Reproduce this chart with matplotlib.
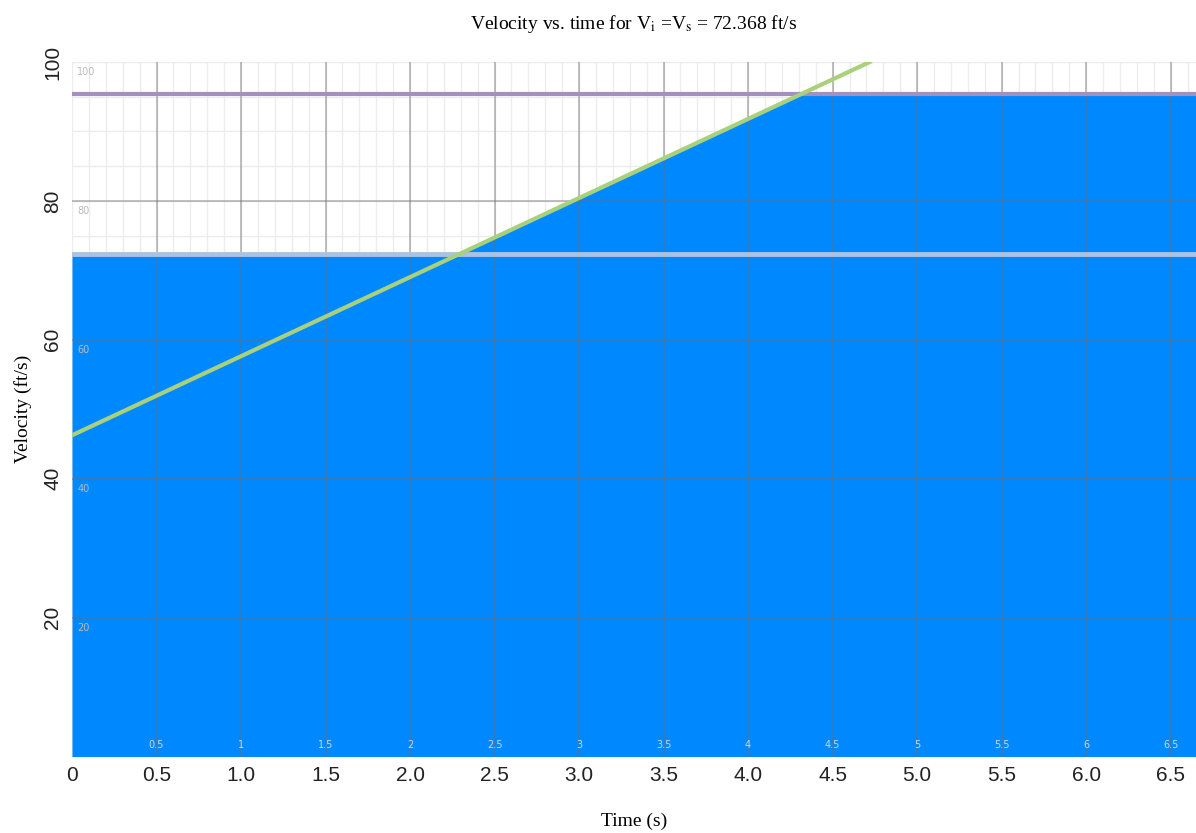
import matplotlib.pyplot as plt
import numpy as np

# values
fill_time = [0.0, 2.29, 4.32, 6.65]
fill_velocity = [72.37, 72.37, 95.45, 95.45]
line_time = [0.0, 4.72]
line_velocity = [46.25, 100.0]
v_start = 72.368
v_top = 95.45
x_ticks = [0, 0.5, 1.0, 1.5, 2.0, 2.5, 3.0, 3.5, 4.0, 4.5, 5.0, 5.5, 6.0, 6.5]
y_ticks = [20, 40, 60, 80, 100]

plt.rcParams["mathtext.fontset"] = "stix"

fig = plt.figure(figsize=(11.96, 8.33), dpi=100)
ax = fig.add_axes([0.0602, 0.0918, 0.9398, 0.8338])

# minor grid behind the fill
for x in np.arange(0, 6.7, 0.1):
    ax.axvline(x, color="#ececec", lw=1, zorder=0)
for y in np.arange(0, 101, 5):
    ax.axhline(y, color="#ececec", lw=1, zorder=0)

ax.fill_between(fill_time, 0, fill_velocity, color="#0088ff", lw=0, zorder=1)

# major grid on top of the fill
for x in x_ticks[1:]:
    ax.axvline(x, color="#6e6e6e", lw=1.2, alpha=0.5, zorder=2)
for y in y_ticks[:-1]:
    ax.axhline(y, color="#6e6e6e", lw=1.2, alpha=0.5, zorder=2)

ax.axhline(v_start, color="#a9c3e4", lw=3.5, zorder=3)
ax.axhline(v_top, color="#a48fc2", lw=3, zorder=3)
ax.plot(line_time, line_velocity, color="#a9d07a", lw=3, zorder=4)

# faint inner tick labels
for x in x_ticks[1:]:
    ax.text(x, 1.0, f"{x:g}", color="#c8d8ee", fontsize=7, ha="center", va="bottom", zorder=5)
for y in y_ticks:
    ax.text(0.03, y - 1.5, f"{y}", color="#bbbbbb", fontsize=7, ha="left", va="center", zorder=5)

ax.set_xlim(0, 6.65)
ax.set_ylim(0, 100)
ax.set_xticks(x_ticks)
ax.set_xticklabels(["0"] + [f"{x:.1f}" for x in x_ticks[1:]],
                   fontsize=15, family="Liberation Sans", color="#222222")
ax.set_yticks(y_ticks)
ax.set_yticklabels([str(y) for y in y_ticks], fontsize=15, family="Liberation Sans",
                   color="#222222", rotation=90, va="center")
ax.tick_params(length=0, pad=7)
for s in ax.spines.values():
    s.set_visible(False)

ax.set_title(r"Velocity vs. time for V$_{\rm i}$ =V$_{\rm s}$ = 72.368 ft/s",
             family="Liberation Serif", fontsize=14, pad=24)
ax.set_xlabel("Time (s)", family="Liberation Serif", fontsize=14, labelpad=20)
ax.set_ylabel("Velocity (ft/s)", family="Liberation Serif", fontsize=14, labelpad=8)

plt.savefig("out.png", dpi=100)
plt.close()
